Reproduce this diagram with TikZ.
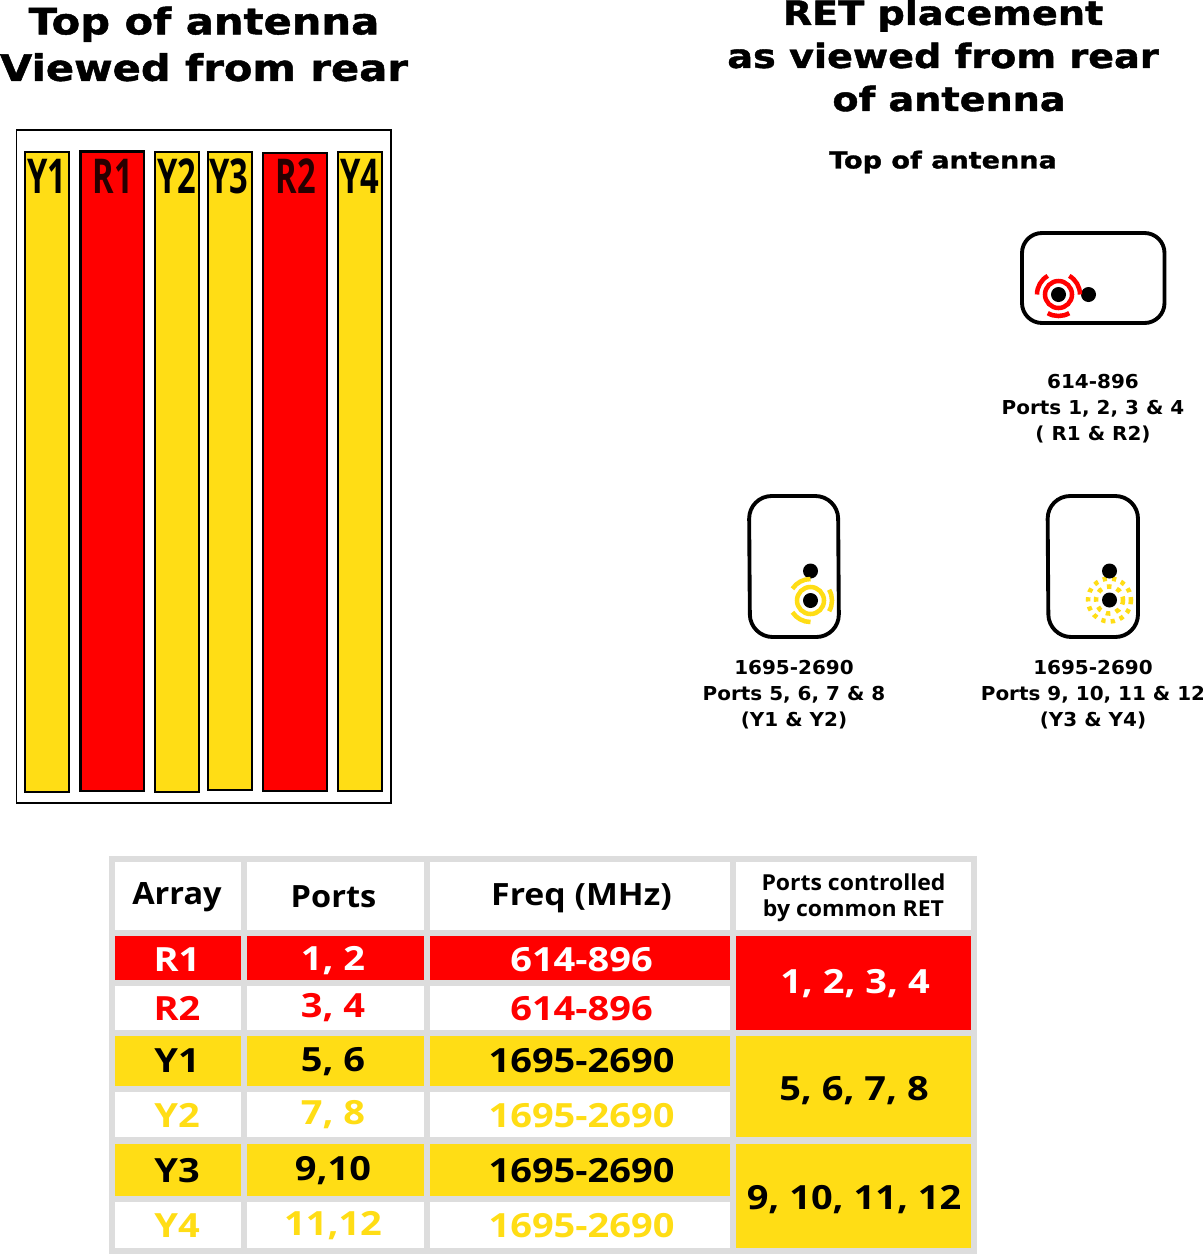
\documentclass[tikz,border=0pt]{standalone}
\usepackage{fontspec}
\setmainfont{DejaVu Sans}
\newfontfamily\tblfont{Open Sans}
\newfontfamily\ttlfont[FakeBold=1.2]{DejaVu Sans Bold}
\definecolor{ylw}{HTML}{FFDD15}
\definecolor{redc}{HTML}{FF0000}
\definecolor{gridc}{HTML}{DDDDDD}
\begin{document}
\begin{tikzpicture}[x=0.75pt,y=-0.75pt,
  ttl/.style={align=center,inner sep=0pt,text=black,xscale=1.145,transform shape},
  subttl/.style={font=\ttlfont\fontsize{17.5}{20}\selectfont,align=center,inner sep=0pt,xscale=1.16,transform shape},
  captxt/.style={font=\fontsize{14.4}{19.5}\selectfont\bfseries,align=center,inner sep=0pt,xscale=1.04,transform shape},
  ybar/.style={draw=black,fill=ylw,line width=2pt},
  rbar/.style={draw=black,fill=redc,line width=2.2pt},
  barlab/.style={font=\tblfont\fontsize{36}{40}\selectfont\bfseries,inner sep=0pt,xscale=0.68,text=black,transform shape},
  retbox/.style={draw=black,line width=2.9pt,fill=white,rounded corners=15pt},
  blackdot/.style={fill=black,draw=none},
  wcell/.style={fill=white,draw=none},
  rcell/.style={fill=redc,draw=none},
  ycell/.style={fill=ylw,draw=none},
  tx/.style={font=\tblfont\fontsize{25}{30}\selectfont\bfseries,inner sep=0pt,xscale=1.14,transform shape},
  hd/.style={font=\tblfont\fontsize{23}{28}\selectfont\bfseries,inner sep=0pt,xscale=1.06,transform shape},
  hds/.style={font=\tblfont\fontsize{16.5}{19.5}\selectfont\bfseries,inner sep=0pt,align=center,xscale=1.045,transform shape},
  ring/.style={line width=3.4pt},
  dotring/.style={line width=3.4pt,dash pattern=on 3.2pt off 3.87pt},
  ]
\useasboundingbox (0,0) rectangle (1203,1254);
% titles
\node[ttl,font=\ttlfont\fontsize{27.3}{34.9}\selectfont] (t1) at (204,44) {Top of antenna\\Viewed from rear};
\node[ttl,font=\ttlfont\fontsize{25}{32.3}\selectfont] (t2) at (943,55.5) {RET placement\\as viewed from rear\\\hspace*{7.9pt}of antenna};
\node[subttl] (t3) at (943,162) {Top of antenna};
% antenna
\draw[black,line width=1pt,fill=white] (16.5,130) rectangle (391,803);
\draw[ybar] (25,152) rectangle (69,792);
\draw[rbar] (80.5,151.5) rectangle (144,791);
\draw[ybar] (155,152) rectangle (199,792);
\draw[ybar] (208,152) rectangle (252,790);
\draw[rbar] (263,153) rectangle (327,791);
\draw[ybar] (338,152) rectangle (382,791);
\node[barlab] (y1) at (47,176) {Y1};
\node[barlab,text=black!85!red] (r1) at (113,176) {R1};
\node[barlab] (y2) at (177,176) {Y2};
\node[barlab] (y3) at (229,176) {Y3};
\node[barlab,text=black!85!red] (r2) at (296,176) {R2};
\node[barlab] (y4) at (360,176) {Y4};
% RET boxes
\draw[retbox] (1022,233) rectangle (1164.5,323);
\draw[retbox,rounded corners=17pt] (749,496) -- (838,496) -- (839,637) -- (750,637) -- cycle;
\draw[retbox,rounded corners=17pt] (1047.5,496) -- (1138,496) -- (1138,637) -- (1048.5,637) -- cycle;
% top RET (y axis is flipped, so angles run clockwise on the page)
\fill[blackdot] (1058.5,294.5) circle (7.5);
\fill[blackdot] (1088.5,294.5) circle (7.5);
\draw[redc,ring] (1058.5,294.5) circle (13.5);
\draw[redc,ring] (1058.5,294.5) ++(180:21.5) arc[start angle=180,end angle=240,radius=21.5];
\draw[redc,ring] (1058.5,294.5) ++(300:21.5) arc[start angle=300,end angle=360,radius=21.5];
\draw[redc,ring] (1058.5,294.5) ++(60:21.5) arc[start angle=60,end angle=120,radius=21.5];
% left RET
\fill[blackdot] (810.5,571) circle (7.5);
\fill[blackdot] (810.5,600.5) circle (7.5);
\draw[ylw,ring] (810.5,600.5) circle (13.5);
\draw[ylw,ring] (810.5,600.5) ++(213:21.5) arc[start angle=213,end angle=270,radius=21.5];
\draw[ylw,ring] (810.5,600.5) ++(330:21.5) arc[start angle=330,end angle=390,radius=21.5];
\draw[ylw,ring] (810.5,600.5) ++(90:21.5) arc[start angle=90,end angle=147,radius=21.5];
% right RET
\draw[ylw,dotring] (1109.5,600) circle (21.5);
\draw[ylw,dotring,dash pattern=on 3.4pt off 4.2pt] (1109.5,600) circle (13.5);
\fill[blackdot] (1109.5,571) circle (7.5);
\fill[blackdot] (1109.5,600) circle (7.5);
% captions
\node[captxt] (c1) at (1093,409) {614-896\\Ports 1, 2, 3 \& 4\\( R1 \& R2)};
\node[captxt] (c2) at (794,695) {1695-2690\\Ports 5, 6, 7 \& 8\\(Y1 \& Y2)};
\node[captxt] (c3) at (1093,695) {1695-2690\\Ports 9, 10, 11 \& 12\\(Y3 \& Y4)};
% table
\fill[gridc] (109,856) rectangle (977,1254);
\foreach \xa/\xb in {115/240.5,247/424,430/730}{
  \fill[wcell] (\xa,862) rectangle (\xb,930);
  \fill[rcell] (\xa,936) rectangle (\xb,980);
  \fill[wcell] (\xa,986) rectangle (\xb,1030);
  \fill[ycell] (\xa,1036) rectangle (\xb,1086);
  \fill[wcell] (\xa,1092) rectangle (\xb,1137);
  \fill[ycell] (\xa,1144) rectangle (\xb,1196);
  \fill[wcell] (\xa,1202) rectangle (\xb,1248);
}
\fill[wcell] (736,862) rectangle (971,930);
\fill[rcell] (736,936) rectangle (971,1030);
\fill[ycell] (736,1036) rectangle (971,1137);
\fill[ycell] (736,1144) rectangle (971,1248);
% header
\node[hd] (h1) at (177,897) {Array};
\node[hd] (h2) at (333.5,897) {Ports};
\node[hd,xscale=1.04] (h3) at (581.5,898) {Freq (MHz)};
\node[hds] (h4) at (853.5,898) {Ports controlled\\by common RET};
% rows
\node[tx,white] (a1) at (177,959.5) {R1};
\node[tx,white] (p1) at (333,961) {1, 2};
\node[tx,white] (f1) at (581.5,959.5) {614-896};
\node[tx,redc] (a2) at (177,1008.5) {R2};
\node[tx,redc] (p2) at (333,1008) {3, 4};
\node[tx,redc] (f2) at (581.5,1008.5) {614-896};
\node[tx] (a3) at (177,1060.5) {Y1};
\node[tx] (p3) at (333,1061.5) {5, 6};
\node[tx] (f3) at (581.5,1060.5) {1695-2690};
\node[tx,ylw] (a4) at (177,1115.5) {Y2};
\node[tx,ylw] (p4) at (333,1115) {7, 8};
\node[tx,ylw] (f4) at (581.5,1115.5) {1695-2690};
\node[tx] (a5) at (177,1170.5) {Y3};
\node[tx] (p5) at (333,1171) {9,10};
\node[tx] (f5) at (581.5,1170.5) {1695-2690};
\node[tx,ylw] (a6) at (177,1225.5) {Y4};
\node[tx,ylw] (p6) at (333,1225.5) {11,12};
\node[tx,ylw] (f6) at (581.5,1225.5) {1695-2690};
\node[tx,white] (k1) at (855,984) {1, 2, 3, 4};
\node[tx] (k2) at (854,1091) {5, 6, 7, 8};
\node[tx] (k3) at (854,1200) {9, 10, 11, 12};
\end{tikzpicture}
\end{document}
